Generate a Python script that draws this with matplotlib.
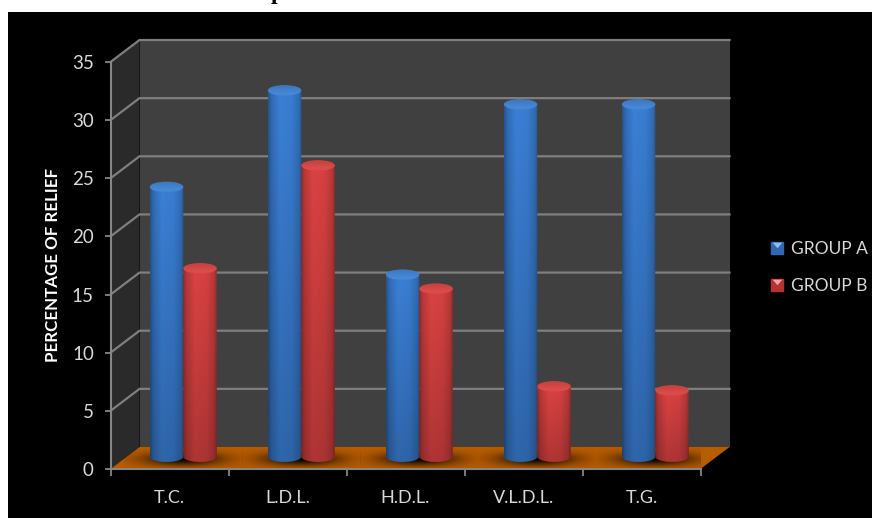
import numpy as np
import matplotlib
matplotlib.use("Agg")
import matplotlib.pyplot as plt
from matplotlib.legend_handler import HandlerTuple
from matplotlib.lines import Line2D
from matplotlib.patches import Ellipse, Polygon, Rectangle

categories = ["T.C.", "L.D.L.", "H.D.L.", "V.L.D.L.", "T.G."]
group_a = [23.2, 31.5, 15.65, 30.3, 30.3]
group_b = [16.2, 25.05, 14.45, 6.05, 5.7]
y_ticks = [0, 5, 10, 15, 20, 25, 30, 35]

W, H = 872, 518
TEXT = "#d9d9d9"
AXIS = "#868686"
GRID = "#7f7f7f"

plt.rcParams["font.family"] = ["Lato", "DejaVu Sans"]

fig = plt.figure(figsize=(W / 100, H / 100), dpi=100, facecolor="white")
fig.patches.append(Rectangle((8 / W, 0), 1, 1 - 12 / H, transform=fig.transFigure,
                             facecolor="black", edgecolor="none", zorder=-1))

# front plane of the 3D box
ax = fig.add_axes([110.5 / W, (H - 469) / H, 590 / W, 407 / H])
ax.patch.set_alpha(0)
ax.set_xlim(0, 5)
ax.set_ylim(0, 35)
ax.set_autoscale_on(False)

# depth of the box in data units
dx = 29 / 118
dy = 22 / 11.63

# walls and floor
ax.add_patch(Polygon([(dx, dy), (5 + dx, dy), (5 + dx, 35 + dy), (dx, 35 + dy)],
                     facecolor="#404040", edgecolor="none", zorder=1, clip_on=False))
ax.add_patch(Polygon([(0, 0), (dx, dy), (dx, 35 + dy), (0, 35)],
                     facecolor="#2a2a2a", edgecolor="none", zorder=1, clip_on=False))
for v in y_ticks[1:]:
    ax.plot([0, dx, 5 + dx], [v, v + dy, v + dy], color=GRID, lw=1.6, zorder=2,
            clip_on=False, solid_joinstyle="miter")
floor = Polygon([(0, 0), (5, 0), (5 + dx, dy), (dx, dy)],
                facecolor="#b85c00", edgecolor="none", zorder=3, clip_on=False)
ax.add_patch(floor)

bar_w = 0.284
cap_h = 0.91
base_y = 1.06
offset_x = 0.5 + dx * 0.476


def shade(rgb, h=64):
    # round shading across the bar, getting darker towards the floor
    t = np.linspace(0, 1, 48)
    across = np.interp(t, [0, 0.1, 0.35, 0.7, 0.92, 1], [0.66, 0.84, 1.0, 0.97, 0.84, 0.68])
    down = np.linspace(1.0, 0.8, h)
    return np.clip(np.outer(down, across)[..., None] * np.array(rgb), 0, 1)


def cylinder(xc, value, rgb, rim, z):
    left, right = xc - bar_w / 2, xc + bar_w / 2
    top = base_y + value
    th = np.linspace(np.pi, 2 * np.pi, 40)
    xs = xc + bar_w / 2 * np.cos(th)
    ys = base_y + cap_h / 2 * np.sin(th)
    pts = np.column_stack([np.r_[xs, right, left], np.r_[ys, top, top]])
    body = Polygon(pts, closed=True, transform=ax.transData)
    im = ax.imshow(shade(rgb), extent=(left, right, base_y - cap_h / 2, top), aspect="auto",
                   zorder=z, interpolation="bilinear")
    im.set_clip_path(body)

    # lid, with a lighter front rim
    lid = Ellipse((xc, top), bar_w, cap_h, transform=ax.transData)
    grad = np.interp(np.linspace(0, 1, 24), [0, 0.55, 0.85, 1], [0.86, 0.95, 1.0, 0.95])
    lid_rgb = grad[:, None, None] * np.array(rim)
    lid_im = ax.imshow(lid_rgb, extent=(left, right, top - cap_h / 2, top + cap_h / 2),
                       aspect="auto", zorder=z + 0.1, interpolation="bilinear")
    lid_im.set_clip_path(lid)


BLUE, BLUE_RIM = (0.23, 0.50, 0.84), (0.28, 0.54, 0.86)
RED, RED_RIM = (0.86, 0.26, 0.26), (0.88, 0.30, 0.29)

yy, xx = np.mgrid[-1:1:60j, -1:1:120j]
shadow = np.zeros((60, 120, 4))
shadow[..., 3] = 0.95 * np.exp(-(xx ** 2 * 2.4 + yy ** 2 * 3.0))

for i in range(len(categories)):
    xc = i + offset_x
    sh = ax.imshow(shadow, extent=(xc - 0.5, xc + 0.5, base_y - 1.2, base_y + 0.8),
                   aspect="auto", zorder=4, interpolation="bilinear")
    sh.set_clip_path(Polygon(floor.get_xy(), transform=ax.transData))
    cylinder(xc - bar_w / 2, group_a[i], BLUE, BLUE_RIM, 5)
    cylinder(xc + bar_w / 2, group_b[i], RED, RED_RIM, 6)

# axes
for s in ("top", "right"):
    ax.spines[s].set_visible(False)
for s in ("left", "bottom"):
    ax.spines[s].set_color(AXIS)
    ax.spines[s].set_linewidth(1.5)
    ax.spines[s].set_zorder(8)

ax.set_yticks(y_ticks)
ax.tick_params(axis="y", colors=AXIS, labelcolor=TEXT, labelsize=13.5, length=4, width=1.3, pad=8)
ax.set_xticks(range(len(categories) + 1))
ax.set_xticklabels([])
ax.set_xticks(np.arange(len(categories)) + 0.5, categories, minor=True)
ax.tick_params(axis="x", which="major", colors=AXIS, length=5, width=1.3)
ax.tick_params(axis="x", which="minor", length=0, labelcolor=TEXT, labelsize=13, pad=15)
ax.set_ylabel("PERCENTAGE OF RELIEF", color="white", fontsize=12.2, fontweight="bold")
ax.yaxis.set_label_coords(61 / W, 1 - 265.5 / H, transform=fig.transFigure)


# legend swatches: a square with a lighter wedge in its upper half
def swatch(color, wedge):
    square = Line2D([], [], ls="", marker="s", ms=8.4, mfc=color, mec=color)
    notch = Line2D([], [], ls="", marker=[(-0.75, 0.9), (0.75, 0.9), (0, 0.05)], ms=8.4,
                   mfc=wedge, mec="none")
    return (square, notch)


leg = ax.legend([swatch("#2f69b3", "#8fbdf0"), swatch("#b83232", "#f0a5a5")],
                ["GROUP A", "GROUP B"],
                handler_map={tuple: HandlerTuple(ndivide=1)},
                loc="center left", bbox_to_anchor=(768 / W, 1 - 267.5 / H),
                bbox_transform=fig.transFigure, frameon=False, fontsize=12.5,
                labelcolor=TEXT, handlelength=1.0, handletextpad=0.3, labelspacing=1.22,
                borderpad=0, borderaxespad=0)

# heading runs off the top edge, only the tail of its letter shows
fig.text(271 / W, 1 + 0.5 / H, "p", family="Liberation Serif", fontweight="bold",
         fontsize=17, color="black", ha="left", va="baseline")

fig.savefig("out.png", dpi=100, facecolor=fig.get_facecolor())
plt.close(fig)
